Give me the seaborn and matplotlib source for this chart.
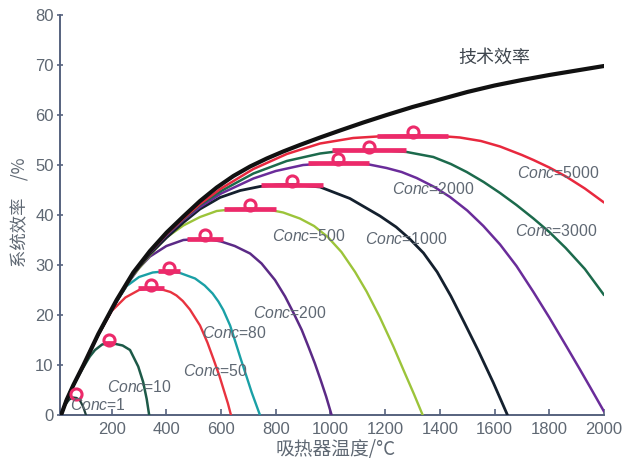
import matplotlib
matplotlib.use("Agg")
import matplotlib.pyplot as plt
import seaborn as sns
import numpy as np

# ---------------- data ----------------
T_TECH = [15, 35, 60, 96, 151, 218, 279, 340, 401, 462, 523, 584, 645, 706, 767, 827, 888,
          962, 1040, 1120, 1205, 1300, 1400, 1500, 1600, 1700, 1800, 1900, 2000]
E_TECH = [0, 3, 6, 9.9, 16.2, 23, 28.5, 32.8, 36.5, 39.7, 42.8, 45.5, 47.8, 49.7, 51.3, 52.7, 54,
          55.5, 57, 58.5, 60, 61.6, 63.1, 64.6, 65.9, 67, 68, 68.9, 69.8]

T_C1 = [15, 30, 45, 60, 72, 85, 96, 106]
E_C1 = [0, 2, 3.1, 3.5, 3.4, 2.8, 1.6, 0]

T_C10 = [15, 35, 60, 96, 120, 139, 165, 190, 215, 240, 267, 297, 315, 328, 337]
E_C10 = [0, 3, 6, 9.5, 11.7, 13, 14.1, 14.4, 14.2, 13.9, 13, 9.7, 6.6, 3.2, 0]

T_C50 = [15, 35, 60, 96, 151, 200, 250, 300, 346, 390, 415, 437, 460, 486, 523, 550, 572, 594,
         612, 625, 636]
E_C50 = [0, 3, 6, 9.9, 16, 20.8, 23.5, 25, 25.4, 25, 24.6, 23.9, 22.8, 21.1, 17.9, 14.5, 11.2, 7.8,
         4.6, 2.3, 0]

T_C80 = [15, 35, 60, 96, 151, 200, 255, 300, 350, 407, 450, 505, 540, 569, 590, 608, 633, 653,
         672, 693, 712, 728, 742]
E_C80 = [0, 3, 6, 9.9, 16.1, 21.1, 25.8, 27.6, 28.5, 28.8, 28.4, 27.3, 25.9, 24.3, 22.7, 21, 17.9, 14.5,
         11.2, 7.7, 4.5, 2.1, 0]

T_C200 = [15, 35, 60, 96, 151, 218, 260, 300, 340, 400, 462, 541, 600, 650, 706, 748, 797, 834,
          864, 895, 919, 943, 964, 984, 1004]
E_C200 = [0, 3, 6, 9.9, 16.1, 22.7, 26.4, 29.4, 31.7, 33.8, 35, 35.3, 34.7, 33.8, 32.3, 30.3, 27, 23.7,
          20.5, 17, 13.7, 10.3, 7, 3.7, 0]

T_C500 = [15, 35, 60, 96, 151, 218, 279, 340, 400, 462, 523, 584, 650, 706, 770, 827, 888, 940,
          990, 1040, 1090, 1132, 1180, 1230, 1270, 1305, 1337]
E_C500 = [0, 3, 6, 9.9, 16.1, 22.8, 28, 32, 35.5, 37.9, 39.6, 40.8, 41.2, 41.3, 41.1, 40.5, 39.3, 37.8,
          35.6, 32.6, 28.6, 24.7, 19.6, 13.7, 8.6, 4.2, 0]

T_C1000 = [15, 35, 60, 96, 151, 218, 279, 340, 401, 462, 523, 596, 670, 742, 800, 860, 962, 1071,
           1181, 1240, 1290, 1340, 1390, 1440, 1490, 1540, 1595, 1647]
E_C1000 = [0, 3, 6, 9.9, 16.1, 22.8, 28.2, 32.2, 35.5, 38.5, 41.2, 43.5, 44.9, 45.7, 46, 46.1, 45.6, 43.3,
           39.8, 37.6, 35.2, 32.4, 28.6, 23.8, 18.4, 12.9, 6.5, 0]

T_C2000 = [15, 35, 60, 96, 151, 218, 279, 340, 401, 462, 523, 600, 718, 800, 900, 1029, 1132, 1205,
           1260, 1315, 1380, 1437, 1500, 1559, 1620, 1680, 1742, 1800, 1864, 1910, 1949, 2000]
E_C2000 = [0, 3, 6, 9.9, 16.1, 22.9, 28.3, 32.5, 36, 39, 41.6, 44.3, 47.3, 48.8, 50, 50.5, 50.2, 49.4,
           48.6, 47.4, 45.6, 43.6, 40.9, 37.8, 34.1, 29.8, 24.6, 19.5, 13.6, 9.3, 5.6, 0.7]

T_C3000 = [15, 35, 60, 96, 151, 218, 279, 340, 401, 462, 523, 600, 718, 840, 962, 1050, 1138, 1210,
           1279, 1376, 1440, 1498, 1560, 1620, 1680, 1742, 1800, 1860, 1930, 2000]
E_C3000 = [0, 3, 6, 9.9, 16.1, 22.9, 28.4, 32.6, 36.2, 39.2, 42, 44.8, 48.3, 50.8, 52.3, 52.9, 53, 52.9,
           52.6, 51.6, 50.2, 48.6, 46.6, 44.4, 42, 39.3, 36.6, 33.4, 29.2, 24]

T_C5000 = [15, 35, 60, 96, 151, 218, 279, 340, 401, 462, 523, 600, 718, 840, 962, 1083, 1200, 1303,
           1400, 1473, 1550, 1620, 1700, 1742, 1800, 1864, 1930, 2000]
E_C5000 = [0, 3, 6, 9.9, 16.1, 22.9, 28.4, 32.6, 36.2, 39.3, 42.2, 45.3, 49.2, 52.2, 54.3, 55.4, 55.8, 55.9,
           55.8, 55.5, 54.8, 53.7, 52, 51, 49.5, 47.6, 45.3, 42.5]

CONC = [1, 10, 50, 80, 200, 500, 1000, 2000, 3000, 5000]
OPT_T = [68, 190, 343, 409, 541, 706, 860, 1029, 1140, 1300]
OPT_E = [3.5, 14.4, 25.4, 28.8, 35.3, 41.3, 46.1, 50.5, 53, 55.9]
OPT_HALF = [0, 18, 48, 40, 66, 95, 113, 110, 135, 130]

X_TICKS = [200, 400, 600, 800, 1000, 1200, 1400, 1600, 1800, 2000]
Y_TICKS = [0, 10, 20, 30, 40, 50, 60, 70, 80]

# ---------------- style ----------------
sns.set_style("ticks")
plt.rcParams["font.family"] = ["Liberation Sans", "Noto Sans CJK SC", "DejaVu Sans"]
plt.rcParams["mathtext.fontset"] = "custom"
plt.rcParams["mathtext.it"] = "Liberation Sans:italic"
plt.rcParams["mathtext.rm"] = "Liberation Sans"

SPINE = "#56627e"
TXT = "#5f6873"
PINK = "#ec2a6a"
CJK = ["Noto Sans CJK SC", "DejaVu Sans"]

curves = [
    (T_C1, E_C1, "#1f3f3a", 1.6),
    (T_C10, E_C10, "#1d5a48", 1.8),
    (T_C50, E_C50, "#e8333f", 1.7),
    (T_C80, E_C80, "#1aa0a6", 1.7),
    (T_C200, E_C200, "#5b2a86", 1.8),
    (T_C500, E_C500, "#9cc43a", 1.7),
    (T_C1000, E_C1000, "#14202e", 2.0),
    (T_C2000, E_C2000, "#6a2c9a", 1.8),
    (T_C3000, E_C3000, "#1c6a4c", 1.8),
    (T_C5000, E_C5000, "#e8283e", 1.8),
]

fig = plt.figure(figsize=(6.24, 4.63), dpi=100)
ax = fig.add_axes([60 / 624, 48 / 463, 544 / 624, 400 / 463])

for t, e, c, lw in curves:
    sns.lineplot(x=t, y=e, ax=ax, color=c, linewidth=lw, sort=False, zorder=3)

sns.lineplot(x=T_TECH, y=E_TECH, ax=ax, color="#111111", linewidth=3.0, sort=False, zorder=5)

# optimum bands and markers
opt_t = np.array(OPT_T, dtype=float)
opt_e = np.array(OPT_E, dtype=float)
half = np.array(OPT_HALF, dtype=float)
ax.hlines(opt_e, opt_t - half, opt_t + half, colors=PINK, linewidth=3.4, zorder=4)
ax.plot(opt_t, opt_e + 0.7, linestyle="none", marker="o", markersize=8,
        markerfacecolor="none", markeredgecolor=PINK, markeredgewidth=2.2, zorder=6)

# labels
labels = [
    (48, 2.0, "1"), (183, 5.7, "10"), (461, 8.7, "50"), (530, 16.5, "80"),
    (717, 20.5, "200"), (785, 35.8, "500"), (1126, 35.3, "1000"), (1225, 45.1, "2000"),
    (1675, 36.7, "3000"), (1682, 48.5, "5000"),
]
for x, y, n in labels:
    ax.text(x, y, r"$\mathit{Conc}$=" + n, ha="left", va="center", fontsize=11.3, color=TXT, zorder=7)

ax.text(1466, 71.4, "技术效率", family=CJK, fontsize=13, color="#3f464e", ha="left", va="center")

ax.set_xlim(11, 2000)
ax.set_ylim(0, 80)
ax.set_xticks(X_TICKS)
ax.set_yticks(Y_TICKS)
ax.set_xticklabels([str(v) for v in X_TICKS])
ax.set_yticklabels([str(v) for v in Y_TICKS])
sns.despine(ax=ax)
for s in ("left", "bottom"):
    ax.spines[s].set_color(SPINE)
    ax.spines[s].set_linewidth(1.4)
ax.tick_params(axis="x", direction="in", length=4, width=1.2, color=SPINE,
               labelcolor=TXT, labelsize=12, pad=5)
ax.tick_params(axis="y", direction="inout", length=5, width=1.2, color=SPINE,
               labelcolor=TXT, labelsize=12, pad=2)
ax.set_xlabel("")
ax.set_ylabel("")

fig.text(336 / 624, 1 - 450 / 463, "吸热器温度/°C", family=CJK, fontsize=13.5,
         color=TXT, ha="center", va="center")
fig.text(20 / 624, 1 - 212 / 463, "系统效率\u3000/%", family=CJK, fontsize=12.5,
         color=TXT, ha="center", va="center", rotation=90)

fig.savefig("out.png", dpi=100, facecolor="white")
